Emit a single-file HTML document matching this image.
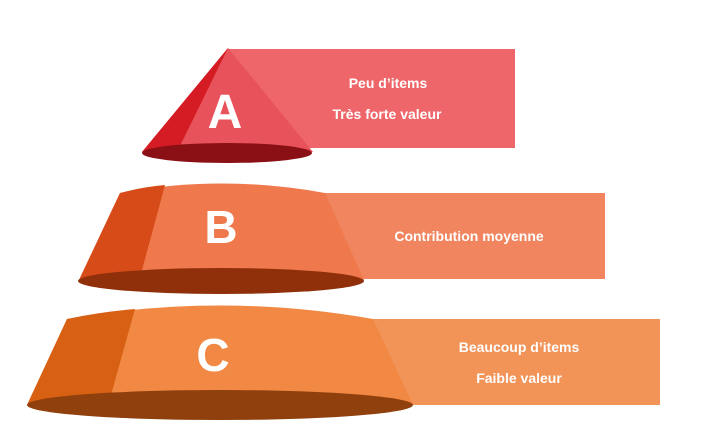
<!DOCTYPE html>
<html><head><meta charset="utf-8"><style>
html,body{margin:0;padding:0;background:#fff;width:712px;height:441px;overflow:hidden}
svg{display:block}
text{font-family:"Liberation Sans",sans-serif;font-weight:bold;fill:#fff}
</style></head><body>
<svg width="712" height="441" viewBox="0 0 712 441">
<!-- label boxes -->
<rect x="228" y="49" width="287" height="99" fill="#ee6669"/>
<rect x="325" y="193" width="280" height="86" fill="#f0855f"/>
<rect x="373" y="319" width="287" height="86" fill="#f29358"/>
<!-- A cone -->
<polygon points="228,48 142,152 313,152" fill="#e8525a"/>
<polygon points="228,48 142,152 180,146" fill="#d51c24"/>
<ellipse cx="227" cy="153" rx="85" ry="10" fill="#8b1016"/>
<text x="225" y="128" font-size="48" text-anchor="middle">A</text>
<!-- B frustum -->
<path d="M120,193 Q222,174 325,193 L364,280 L79,280 Z" fill="#ef784c"/>
<path d="M120,193 Q142,187 165,185 L142,270 L79,280 Z" fill="#d64b18"/>
<ellipse cx="221" cy="281" rx="143" ry="13" fill="#8f300b"/>
<text x="221" y="243" font-size="46" text-anchor="middle">B</text>
<!-- C frustum -->
<path d="M67,319 Q220,292 373,319 L413,405 L27,405 Z" fill="#f18944"/>
<path d="M67,319 Q100,312 135,309 L111,395 L27,405 Z" fill="#d86013"/>
<ellipse cx="220" cy="405" rx="193" ry="15" fill="#8f400d"/>
<text x="213" y="371" font-size="46" text-anchor="middle">C</text>
<!-- labels -->
<text x="388" y="88" font-size="14" text-anchor="middle">Peu d’items</text>
<text x="387" y="119" font-size="14" text-anchor="middle">Très forte valeur</text>
<text x="469" y="241" font-size="14" text-anchor="middle">Contribution moyenne</text>
<text x="519" y="352" font-size="14" text-anchor="middle">Beaucoup d’items</text>
<text x="519" y="383" font-size="14" text-anchor="middle">Faible valeur</text>
</svg>
</body></html>
